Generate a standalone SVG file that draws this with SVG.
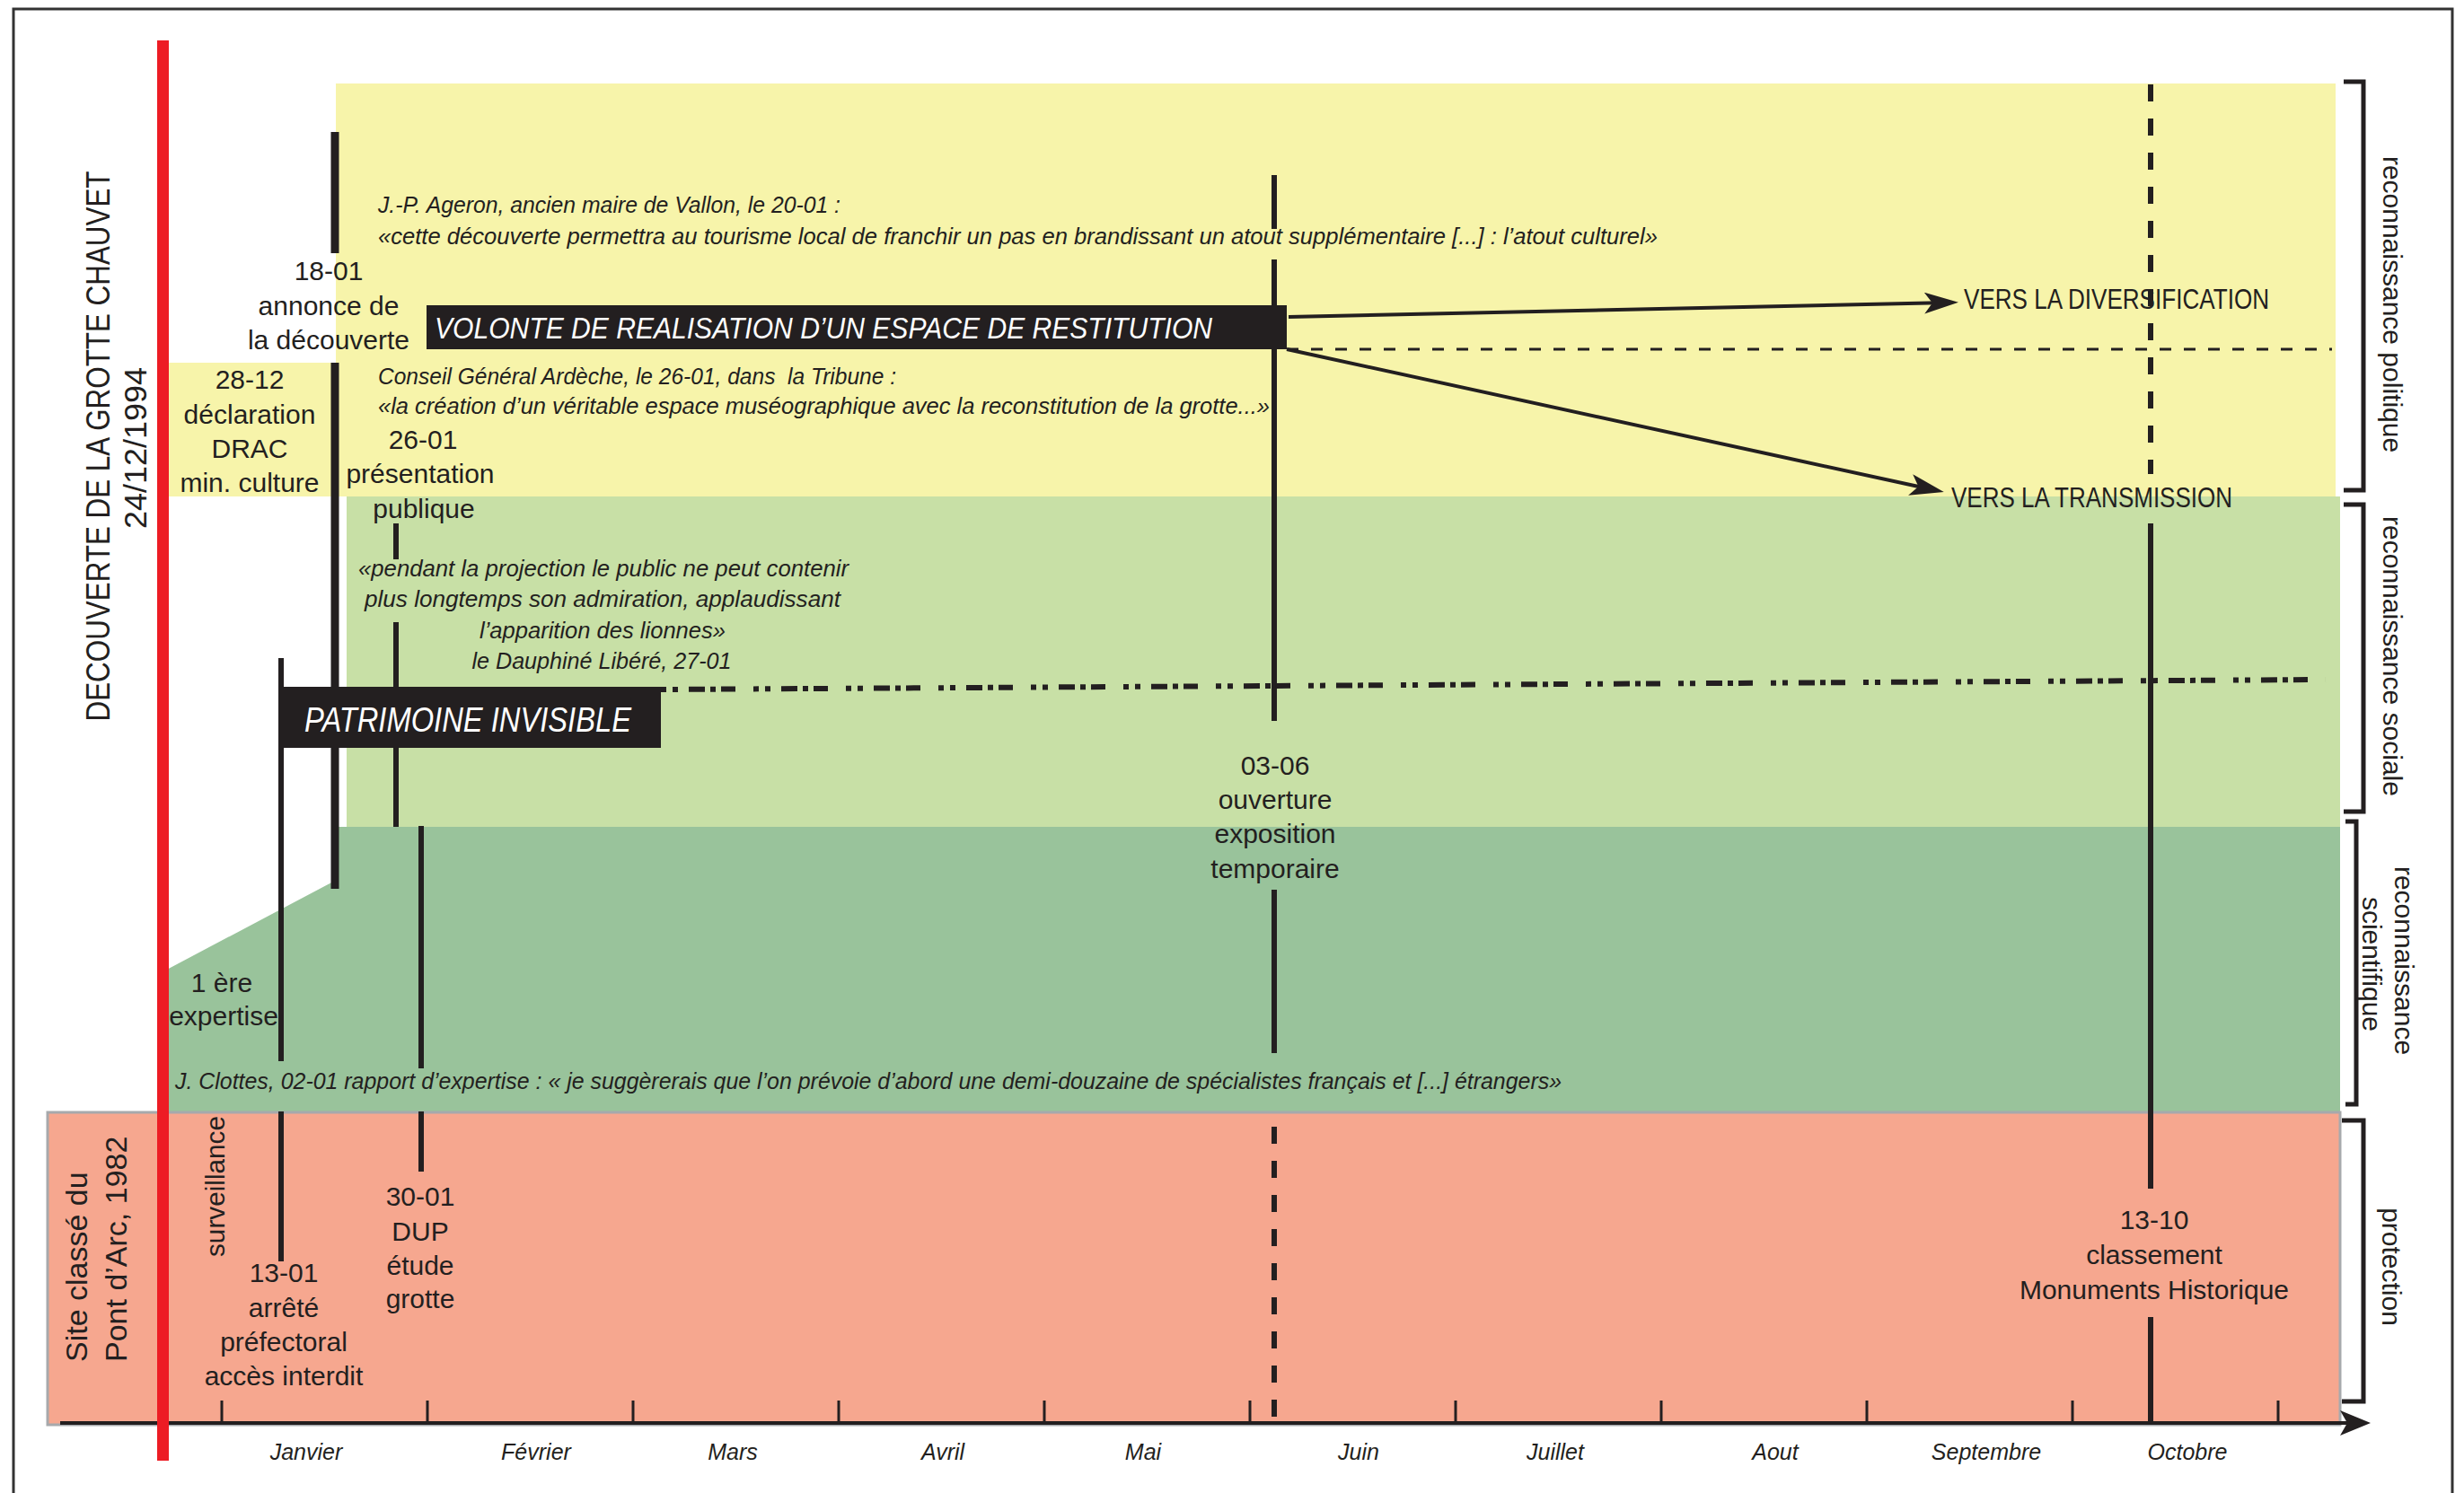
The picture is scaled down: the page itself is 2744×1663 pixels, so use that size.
<svg xmlns="http://www.w3.org/2000/svg" width="2744" height="1663" viewBox="0 0 2744 1663">
<defs>
<style>
text{font-family:"Liberation Sans",Arial,sans-serif;fill:#231F20;}
.ev{font-size:30px;text-anchor:middle;}
.q{font-size:26px;font-style:italic;}
.qc{font-size:26px;font-style:italic;text-anchor:middle;}
.mo{font-size:25px;font-style:italic;text-anchor:middle;}
.lab{font-size:30px;text-anchor:middle;}
.vers{font-size:31px;}
.ln{stroke:#231F20;stroke-width:6;fill:none;}
.bar{stroke:#231F20;stroke-width:9;fill:none;}
.dash{stroke:#231F20;stroke-width:6;stroke-dasharray:19 19;fill:none;}
.tick{stroke:#231F20;stroke-width:3;fill:none;}
.box{fill:#231F20;}
text.wt{fill:#FFFFFF;font-style:italic;}
.br{stroke:#231F20;stroke-width:5;fill:none;}
.arr{stroke:#231F20;stroke-width:4;fill:none;marker-end:url(#ah);}
</style>
<marker id="ah" markerUnits="userSpaceOnUse" markerWidth="40" markerHeight="24" viewBox="0 0 40 24" refX="28" refY="12" orient="auto">
<path d="M0,0 L38,12 L0,24 L9,12 Z" fill="#231F20"/>
</marker>
<marker id="axh" markerUnits="userSpaceOnUse" markerWidth="36" markerHeight="28" viewBox="0 0 36 28" refX="19" refY="14" orient="auto">
<path d="M0,0 L34,14 L0,28 L8,14 Z" fill="#231F20"/>
</marker>
</defs>

<rect x="0" y="0" width="2744" height="1663" fill="#FFFFFF"/>

<g id="bands">
<rect id="band-politique" x="374" y="93" width="2227" height="460" fill="#F7F4AA"/>
<rect id="band-2812" x="182" y="404" width="190" height="149" fill="#F7F4AA"/>
<rect id="band-sociale" x="386" y="553" width="2220" height="368" fill="#C8E0A6"/>
<polygon id="band-scientifique" points="373,921 2606,921 2606,1239 182,1239 182,1082 373,981" fill="#99C39B"/>
<rect id="band-protection" x="53" y="1239" width="2553" height="348" fill="#F6A78F" stroke="#A7A9AC" stroke-width="3"/>
</g>

<path id="frame" d="M15,1663 V10 H2731 V1663" fill="none" stroke="#333333" stroke-width="3"/>

<g id="axis">
<line x1="67" y1="1585" x2="2625" y2="1585" stroke="#231F20" stroke-width="4" marker-end="url(#axh)"/>
<path class="tick" d="M247,1560V1585 M476,1560V1585 M705,1560V1585 M934,1560V1585 M1163,1560V1585 M1392,1560V1585 M1621,1560V1585 M1850,1560V1585 M2079,1560V1585 M2308,1560V1585 M2537,1560V1585"/>
<text class="mo" x="341" y="1626">Janvier</text>
<text class="mo" x="597" y="1626">Février</text>
<text class="mo" x="816" y="1626">Mars</text>
<text class="mo" x="1050" y="1626">Avril</text>
<text class="mo" x="1273" y="1626">Mai</text>
<text class="mo" x="1513" y="1626">Juin</text>
<text class="mo" x="1732" y="1626">Juillet</text>
<text class="mo" x="1977" y="1626">Aout</text>
<text class="mo" x="2212" y="1626">Septembre</text>
<text class="mo" x="2436" y="1626">Octobre</text>
</g>

<g id="event-lines">
<path class="bar" d="M373,147V282 M373,404V990"/>
<path class="ln" d="M313,733V1182 M313,1238V1405"/>
<path class="ln" d="M441,583V623 M441,693V921"/>
<path class="ln" d="M469,920V1190 M469,1238V1305"/>
<path class="ln" d="M1419,195V255 M1419,289V803 M1419,991V1173"/>
<path class="dash" d="M1419,1255V1582"/>
<path class="dash" d="M2395,94V528"/>
<path class="ln" d="M2395,583V1324 M2395,1467V1585"/>
</g>

<rect id="red-line" x="175" y="45" width="13" height="1582" fill="#ED1C24"/>

<g id="connectors">
<line class="arr" x1="1435" y1="353" x2="2171" y2="337"/>
<line class="arr" x1="1433" y1="389" x2="2155" y2="546"/>
<line x1="1433" y1="389" x2="2597" y2="389" stroke="#231F20" stroke-width="3" stroke-dasharray="13 14"/>
<line x1="736" y1="768" x2="2590" y2="757" stroke="#231F20" stroke-width="6" stroke-dasharray="6 7 6 12 18 6 6 6 16 20"/>
</g>

<g id="node-volonte">
<rect class="box" x="475" y="340" width="958" height="49"/>
<text class="wt" x="484" y="377" font-size="34" textLength="866" lengthAdjust="spacingAndGlyphs">VOLONTE DE REALISATION D’UN ESPACE DE RESTITUTION</text>
</g>

<g id="node-patrimoine">
<rect class="box" x="310" y="765" width="426" height="68"/>
<text class="wt" x="339" y="815" font-size="38" textLength="364" lengthAdjust="spacingAndGlyphs">PATRIMOINE INVISIBLE</text>
</g>

<g id="node-diversification">
<text class="vers" x="2187" y="344" textLength="340" lengthAdjust="spacingAndGlyphs">VERS LA DIVERSIFICATION</text>
</g>
<g id="node-transmission">
<text class="vers" x="2173" y="565" textLength="313" lengthAdjust="spacingAndGlyphs">VERS LA TRANSMISSION</text>
</g>

<g id="title">
<text transform="translate(122,497) rotate(-90)" font-size="37" text-anchor="middle" textLength="613" lengthAdjust="spacingAndGlyphs">DECOUVERTE DE LA GROTTE CHAUVET</text>
<text transform="translate(163,499) rotate(-90)" font-size="35" text-anchor="middle" textLength="180" lengthAdjust="spacingAndGlyphs">24/12/1994</text>
</g>

<g id="node-site">
<text transform="translate(97,1517) rotate(-90)" font-size="34">Site classé du</text>
<text transform="translate(141,1517) rotate(-90)" font-size="34">Pont d’Arc, 1982</text>
</g>

<g id="node-surveillance">
<text transform="translate(250,1400) rotate(-90)" font-size="29" textLength="157" lengthAdjust="spacingAndGlyphs">surveillance</text>
</g>

<g id="node-2812">
<text class="ev" x="278" y="433">28-12</text>
<text class="ev" x="278" y="472">déclaration</text>
<text class="ev" x="278" y="510">DRAC</text>
<text class="ev" x="278" y="548">min. culture</text>
</g>

<g id="node-1801">
<text class="ev" x="366" y="312">18-01</text>
<text class="ev" x="366" y="351">annonce de</text>
<text class="ev" x="366" y="389">la découverte</text>
</g>

<g id="node-2601">
<text class="ev" x="471" y="500">26-01</text>
<text class="ev" x="468" y="538">présentation</text>
<text class="ev" x="472" y="577">publique</text>
</g>

<g id="node-expertise">
<text class="ev" x="247" y="1105">1 ère</text>
<text class="ev" x="249" y="1142">expertise</text>
</g>

<g id="node-1301">
<text class="ev" x="316" y="1428">13-01</text>
<text class="ev" x="316" y="1467">arrêté</text>
<text class="ev" x="316" y="1505">préfectoral</text>
<text class="ev" x="316" y="1543">accès interdit</text>
</g>

<g id="node-3001">
<text class="ev" x="468" y="1343">30-01</text>
<text class="ev" x="468" y="1382">DUP</text>
<text class="ev" x="468" y="1420">étude</text>
<text class="ev" x="468" y="1457">grotte</text>
</g>

<g id="node-0306">
<text class="ev" x="1420" y="863">03-06</text>
<text class="ev" x="1420" y="901">ouverture</text>
<text class="ev" x="1420" y="939">exposition</text>
<text class="ev" x="1420" y="978">temporaire</text>
</g>

<g id="node-1310">
<text class="ev" x="2399" y="1369">13-10</text>
<text class="ev" x="2399" y="1408">classement</text>
<text class="ev" x="2399" y="1447">Monuments Historique</text>
</g>

<g id="quotes">
<text class="q" x="421" y="237" textLength="515" lengthAdjust="spacingAndGlyphs">J.-P. Ageron, ancien maire de Vallon, le 20-01 :</text>
<text class="q" x="421" y="272" textLength="1425" lengthAdjust="spacingAndGlyphs">«cette découverte permettra au tourisme local de franchir un pas en brandissant un atout supplémentaire [...] : l’atout culturel»</text>
<text class="q" x="421" y="428" textLength="577" lengthAdjust="spacingAndGlyphs" xml:space="preserve">Conseil Général Ardèche, le 26-01, dans  la Tribune :</text>
<text class="q" x="421" y="461" textLength="993" lengthAdjust="spacingAndGlyphs">«la création d’un véritable espace muséographique avec la reconstitution de la grotte...»</text>
<text class="qc" x="672" y="642" textLength="546" lengthAdjust="spacingAndGlyphs">«pendant la projection le public ne peut contenir</text>
<text class="qc" x="671" y="676" textLength="530" lengthAdjust="spacingAndGlyphs">plus longtemps son admiration, applaudissant</text>
<text class="qc" x="671" y="711" textLength="274" lengthAdjust="spacingAndGlyphs">l’apparition des lionnes»</text>
<text class="qc" x="670" y="745" textLength="289" lengthAdjust="spacingAndGlyphs">le Dauphiné Libéré, 27-01</text>
<text class="q" x="195" y="1213" textLength="1544" lengthAdjust="spacingAndGlyphs">J. Clottes, 02-01 rapport d’expertise : « je suggèrerais que l’on prévoie d’abord une demi-douzaine de spécialistes français et [...] étrangers»</text>
</g>

<g id="brackets">
<path class="br" d="M2610,91 H2632 V546 H2610"/>
<path class="br" d="M2610,562 H2632 V904 H2610"/>
<path class="br" d="M2612,915 H2624 V1230 H2612"/>
<path class="br" d="M2608,1248 H2632 V1561 H2608"/>
<text class="lab" transform="translate(2654,339) rotate(90)">reconnaissance politique</text>
<text class="lab" transform="translate(2654,731) rotate(90)">reconnaissance sociale</text>
<text class="lab" transform="translate(2667,1070) rotate(90)">reconnaissance</text>
<text class="lab" transform="translate(2631,1074) rotate(90)">scientifique</text>
<text class="lab" transform="translate(2653,1411) rotate(90)">protection</text>
</g>
</svg>
